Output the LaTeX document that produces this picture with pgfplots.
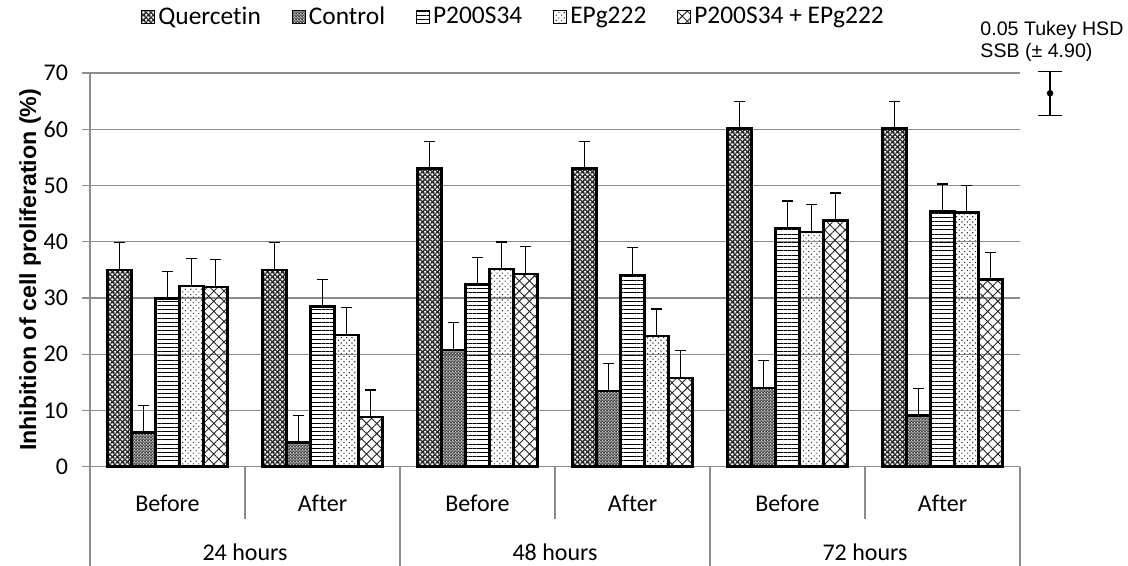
\documentclass[border=0pt]{standalone}
\usepackage{fontspec}
\setmainfont[Ligatures=NoCommon]{Carlito}
\newfontfamily\arialfont{Liberation Sans}
\usepackage{pgfplots}
\usepackage{pgfplotstable}
\pgfplotsset{compat=1.18}
\usetikzlibrary{patterns,patterns.meta}

% dark tile with white staggered dots (Quercetin)
\pgfdeclarepatterninherentlycolored{querc}{\pgfpointorigin}{\pgfqpoint{2.6pt}{2.6pt}}{\pgfqpoint{2.6pt}{2.6pt}}{%
  \pgfsetfillcolor{black!85}%
  \pgfpathrectangle{\pgfpointorigin}{\pgfqpoint{2.6pt}{2.6pt}}\pgfusepath{fill}%
  \pgfsetfillcolor{white}%
  \pgfpathcircle{\pgfqpoint{0.65pt}{0.65pt}}{0.72pt}%
  \pgfpathcircle{\pgfqpoint{1.95pt}{1.95pt}}{0.72pt}%
  \pgfusepath{fill}%
}
% fine dark grain (Control)
\pgfdeclarepatterninherentlycolored{ctrl}{\pgfpointorigin}{\pgfqpoint{1.4pt}{1.4pt}}{\pgfqpoint{1.4pt}{1.4pt}}{%
  \pgfsetfillcolor{black!75}%
  \pgfpathrectangle{\pgfpointorigin}{\pgfqpoint{1.4pt}{1.4pt}}\pgfusepath{fill}%
  \pgfsetfillcolor{white!80!black}%
  \pgfpathrectangle{\pgfpointorigin}{\pgfqpoint{0.55pt}{0.55pt}}%
  \pgfpathrectangle{\pgfqpoint{0.7pt}{0.7pt}}{\pgfqpoint{0.55pt}{0.55pt}}%
  \pgfusepath{fill}%
}

\pgfplotstableread{
x q    c    p    e    pe
0 35.0 6.1  29.9 32.1 32.0
1 35.0 4.3  28.5 23.4 8.8
2 53.0 20.8 32.4 35.1 34.3
3 53.0 13.5 34.1 23.2 15.8
4 60.1 14.0 42.4 41.7 43.8
5 60.1 9.1  45.4 45.2 33.3
}\datatable

\begin{document}
\begin{tikzpicture}
\useasboundingbox (-45pt,-49.65pt) rectangle (519pt,233.35pt);
\begin{axis}[
    at={(0,0)}, anchor=south west,
    scale only axis,
    width=465pt, height=196.85pt,
    xmin=-0.5, xmax=5.5,
    ymin=0, ymax=70,
    ytick={0,10,...,70},
    xtick={0,...,5},
    xticklabels={Before,After,Before,After,Before,After},
    axis lines*=left,
    axis line style={black!45, line width=0.6pt},
    ymajorgrids,
    major grid style={black!45, line width=0.6pt},
    tick align=outside,
    major tick length=4pt,
    major x tick style={draw=none},
    y tick style={black!45, line width=0.6pt},
    tick label style={font=\fontsize{12}{14}\selectfont},
    /pgf/number format/assume math mode=true,
    xticklabel style={anchor=base, yshift=-18.5pt},
    yticklabel style={xshift=-3.5pt},
    ylabel={Inhibition of cell proliferation (\%)},
    ylabel style={at={(axis description cs:-0.058,0.5)}, anchor=base,
        font=\arialfont\bfseries\fontsize{11.6}{13}\selectfont},
    ybar=0pt,
    bar width=12pt,
    clip=false,
    legend columns=-1,
    legend style={at={(axis description cs:0.456,1.142)}, anchor=center,
        draw=none, fill=none, font=\fontsize{12.7}{14}\selectfont,
        /tikz/every even column/.append style={column sep=14pt},
        nodes={inner xsep=1.5pt, inner ysep=1pt}},
    legend image code/.code={\draw[#1, line width=0.5pt] (0pt,-3.25pt) rectangle (6.5pt,3.25pt);},
    every axis plot/.append style={draw=black, line width=1.2pt,
        error bars/y dir=plus, error bars/y fixed=4.85,
        error bars/error bar style={line width=0.6pt, black},
        error bars/error mark options={rotate=90, mark size=2.75pt, line width=0.6pt, black}},
]
\addplot[pattern=querc] table[x=x, y=q] {\datatable};
\addplot[pattern=ctrl] table[x=x, y=c] {\datatable};
\addplot[pattern={Lines[angle=0, distance=2.1pt, line width=0.5pt]}] table[x=x, y=p] {\datatable};
\addplot[pattern={Dots[distance=1.9pt, radius=0.4pt, angle=45]}, pattern color=black!80] table[x=x, y=e] {\datatable};
\addplot[pattern={Hatch[angle=45, distance=3.6pt, line width=0.45pt]}, pattern color=black!85] table[x=x, y=pe] {\datatable};
\legend{Quercetin, Control, P200S34, EPg222, P200S34 + EPg222}

% category separators
\draw[black!45, line width=0.6pt] (axis cs:-0.5,0) -- ([yshift=-49.65pt]axis cs:-0.5,0);
\draw[black!45, line width=0.6pt] (axis cs:1.5,0) -- ([yshift=-49.65pt]axis cs:1.5,0);
\draw[black!45, line width=0.6pt] (axis cs:3.5,0) -- ([yshift=-49.65pt]axis cs:3.5,0);
\draw[black!45, line width=0.6pt] (axis cs:5.5,0) -- ([yshift=-49.65pt]axis cs:5.5,0);
\draw[black!45, line width=0.6pt] (axis cs:0.5,0) -- ([yshift=-26pt]axis cs:0.5,0);
\draw[black!45, line width=0.6pt] (axis cs:2.5,0) -- ([yshift=-26pt]axis cs:2.5,0);
\draw[black!45, line width=0.6pt] (axis cs:4.5,0) -- ([yshift=-26pt]axis cs:4.5,0);
\node[anchor=base, font=\fontsize{12}{14}\selectfont] at ([yshift=-47pt]axis cs:0.5,0) {24 hours};
\node[anchor=base, font=\fontsize{12}{14}\selectfont] at ([yshift=-47pt]axis cs:2.5,0) {48 hours};
\node[anchor=base, font=\fontsize{12}{14}\selectfont] at ([yshift=-47pt]axis cs:4.5,0) {72 hours};
\end{axis}

\begin{axis}[
    at={(0,0)}, anchor=south west,
    scale only axis,
    width=465pt, height=196.85pt,
    xmin=-0.5, xmax=5.5,
    ymin=0, ymax=70,
    hide axis, clip=false,
]
\addplot[black, only marks, mark=*, mark size=1.4pt,
    error bars/.cd, y dir=both, y explicit,
    error bar style={line width=0.6pt},
    error mark options={rotate=90, mark size=5.9pt, line width=0.6pt}]
    coordinates {(5.694,66.4) +- (0,3.9)};
\node[anchor=base west, align=left, inner sep=0pt,
      font=\arialfont\fontsize{9.8}{10.8}\selectfont]
    at (axis cs:5.242,72.8) {0.05 Tukey HSD\\SSB (± 4.90)};
\end{axis}
\end{tikzpicture}
\end{document}
